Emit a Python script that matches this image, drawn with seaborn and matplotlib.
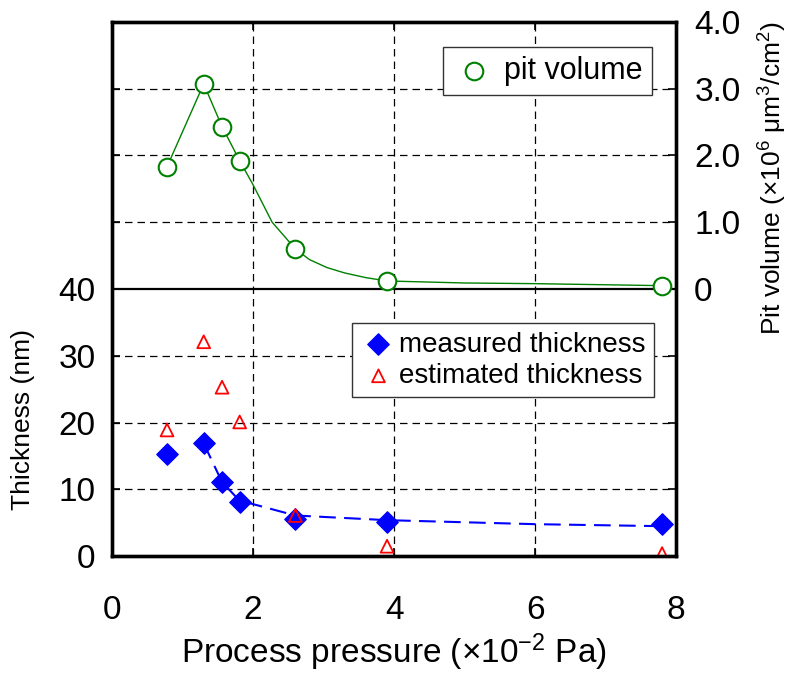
import numpy as np
import pandas as pd
import matplotlib
matplotlib.use("Agg")
import matplotlib.pyplot as plt
import seaborn as sns

# Du lieu doc tu hinh
pressure = [0.78, 1.30, 1.56, 1.81, 2.60, 3.90, 7.80]
pit_volume = [1.83, 3.07, 2.43, 1.92, 0.60, 0.12, 0.05]
measured_thk = [15.3, 16.9, 11.1, 8.1, 5.5, 5.1, 4.9]
estimated_thk = [18.9, 32.1, 25.3, 20.1, 6.1, 1.5, 0.4]

# duong cong (doc tu hinh)
pv_curve_x = [0.78, 1.30, 1.56, 1.81, 2.0, 2.27, 2.6, 2.8, 3.05, 3.3, 3.6, 3.9, 5.0, 6.0, 7.8]
pv_curve_y = [1.83, 3.07, 2.43, 1.92, 1.56, 1.00, 0.60, 0.44, 0.32, 0.24, 0.17, 0.12, 0.09, 0.08, 0.05]
fit_x = [1.30, 1.56, 1.81, 2.0, 2.6, 3.9, 6.0, 7.8]
fit_thk = [16.9, 11.1, 8.3, 7.8, 6.1, 5.4, 4.8, 4.5]

x_ticks = [0, 2, 4, 6, 8]
thk_ticks = [0, 10, 20, 30, 40]
pv_ticks = [0, 1, 2, 3, 4]
pv_labels = ["0", "1.0", "2.0", "3.0", "4.0"]

sns.set_style("white")
plt.rcParams['font.family'] = ['Liberation Sans', 'DejaVu Sans']
plt.rcParams['mathtext.fontset'] = 'custom'
plt.rcParams['mathtext.rm'] = 'Liberation Sans'
plt.rcParams['mathtext.it'] = 'Liberation Sans:italic'
plt.rcParams['text.color'] = 'black'
plt.rcParams['axes.labelcolor'] = 'black'
plt.rcParams['xtick.color'] = 'black'
plt.rcParams['ytick.color'] = 'black'

fig = plt.figure(figsize=(7.89, 6.80), dpi=100)
ax = fig.add_axes([0.142, 0.182, 0.715, 0.786])
ax2 = ax.twinx()

green = '#008000'

# nua duoi: do day
sns.lineplot(x=fit_x, y=fit_thk, ax=ax, color='blue', lw=1.5, sort=False,
             estimator=None, zorder=3)
ax.lines[-1].set_dashes([8, 4])
sns.scatterplot(x=pressure, y=measured_thk, ax=ax, marker='D', s=120,
                color='blue', edgecolor='blue', zorder=4, label='measured thickness')
sns.scatterplot(x=pressure, y=estimated_thk, ax=ax, marker='^', s=85,
                facecolor='none', edgecolor='red', linewidth=1.3, zorder=5,
                label='estimated thickness')

# nua tren: the tich ho
sns.lineplot(x=pv_curve_x, y=pv_curve_y, ax=ax2, color=green, lw=1.0, sort=False,
             estimator=None, zorder=3)
sns.scatterplot(x=pressure, y=pit_volume, ax=ax2, marker='o', s=160,
                facecolor='white', edgecolor=green, linewidth=1.5, zorder=4,
                label='pit volume')

ax.set_xlim(0, 8)
ax.set_ylim(0, 80)
ax2.set_ylim(-4, 4)

ax.set_xticks(x_ticks)
ax.set_xticklabels([str(t) for t in x_ticks])
ax.set_yticks(list(range(0, 81, 10)))
ax.set_yticklabels([str(t) if t in thk_ticks else "" for t in range(0, 81, 10)])
ax2.set_yticks(pv_ticks)
ax2.set_yticklabels(pv_labels)

ax.tick_params(axis='both', direction='in', length=6, width=1.2, labelsize=24,
               top=True, right=True, left=True, bottom=True)
ax.tick_params(axis='y', pad=12)
ax.tick_params(axis='x', pad=28)
ax2.tick_params(axis='y', direction='in', length=0, labelsize=24, pad=13)

# luoi
for gx in [2, 4, 6]:
    ax.axvline(gx, color='black', lw=0.9, ls=(0, (6, 4)), zorder=1)
for gy in [10, 20, 30, 50, 60, 70]:
    ax.axhline(gy, color='black', lw=0.9, ls=(0, (6, 4)), zorder=1)
ax.axhline(40, color='black', lw=1.6, zorder=2)

for a in (ax, ax2):
    for sp in a.spines.values():
        sp.set_linewidth(2.4)
        sp.set_color('black')

ax.set_xlabel("Process pressure (×10$^{-2}$ Pa)", fontsize=24)
ax.set_ylabel("Thickness (nm)", fontsize=19)
ax.yaxis.set_label_coords(-0.137, 0.255)
ax2.set_ylabel("Pit volume (×10$^{6}$ μm$^{3}$/cm$^{2}$)", fontsize=19)
ax2.yaxis.set_label_coords(1.143, 0.708)

leg1 = ax.legend(loc='upper left', bbox_to_anchor=(0.4255, 0.436), fontsize=20,
                 frameon=True, fancybox=False, edgecolor='#333333', framealpha=1,
                 handletextpad=0.1, borderpad=0.3, labelspacing=0.2,
                 handlelength=1.3, borderaxespad=0)
leg1.get_frame().set_linewidth(1.0)
leg2 = ax2.legend(loc='upper left', bbox_to_anchor=(0.587, 0.953), fontsize=22,
                  frameon=True, fancybox=False, edgecolor='#333333', framealpha=1,
                  handletextpad=0.3, borderpad=0.3, handlelength=1.4,
                  borderaxespad=0)
leg2.get_frame().set_linewidth(1.0)

fig.savefig("out.png", dpi=100)
